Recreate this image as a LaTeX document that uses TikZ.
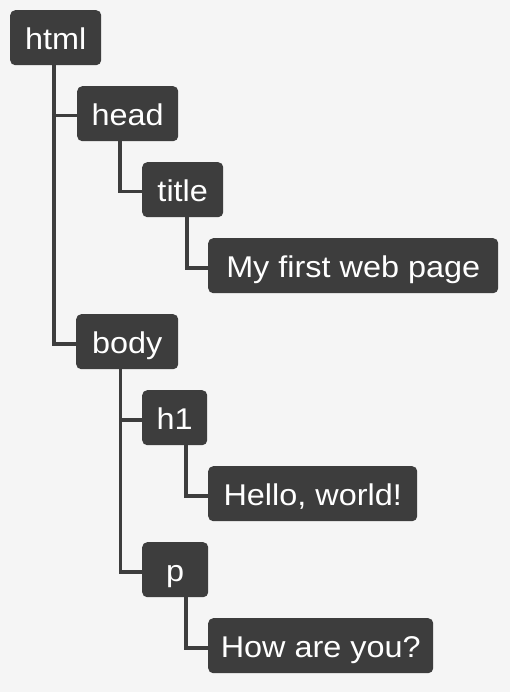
\documentclass[tikz,border=0pt]{standalone}
\usepackage{fontspec}
\setmainfont{Liberation Sans}[FakeStretch=1.08]
\definecolor{bg}{HTML}{F5F5F5}
\definecolor{box}{HTML}{3D3D3D}
\begin{document}
\begin{tikzpicture}[x=1pt,y=1pt,
  tag/.style={draw=none,fill=box,text=white,rounded corners=5pt,anchor=north west,
    minimum height=55pt,inner xsep=0pt,inner ysep=0pt,text height=25pt,text depth=2pt,
    font=\fontsize{30}{32}\selectfont},
  link/.style={draw=box,line width=3.6pt}]
\fill[bg] (0,0) rectangle (510,-692);
\useasboundingbox (0,0) rectangle (510,-692);
\node[tag,minimum width=91pt] (html) at (10,-10) {html};
\node[tag,minimum width=101pt] (head) at (77,-86) {head};
\node[tag,minimum width=81pt] (title) at (142,-162) {title};
\node[tag,minimum width=290pt] (my) at (208,-238) {My first web page};
\node[tag,minimum width=102pt] (body) at (76,-314) {body};
\node[tag,minimum width=65pt] (h1) at (142,-390) {h1};
\node[tag,minimum width=209pt] (hello) at (208,-466) {Hello, world!};
\node[tag,minimum width=66pt] (p) at (142,-542) {p};
\node[tag,minimum width=225pt] (how) at (208,-618) {How are you?};
\draw[link] ([xshift=44pt]html.south west) |- ([yshift=-2pt]body.west);
\draw[link] ([xshift=44pt]html.south west) |- ([yshift=-2pt]head.west);
\draw[link] ([xshift=43pt]head.south west) |- ([yshift=-2pt]title.west);
\draw[link] ([xshift=45pt]title.south west) |- ([yshift=-2pt]my.west);
\draw[link] ([xshift=44.5pt]body.south west) |- ([yshift=-2pt]p.west);
\draw[link] ([xshift=44.5pt]body.south west) |- ([yshift=-2pt]h1.west);
\draw[link] ([xshift=44pt]h1.south west) |- ([yshift=-2pt]hello.west);
\draw[link] ([xshift=44pt]p.south west) |- ([yshift=-2pt]how.west);
\end{tikzpicture}
\end{document}
